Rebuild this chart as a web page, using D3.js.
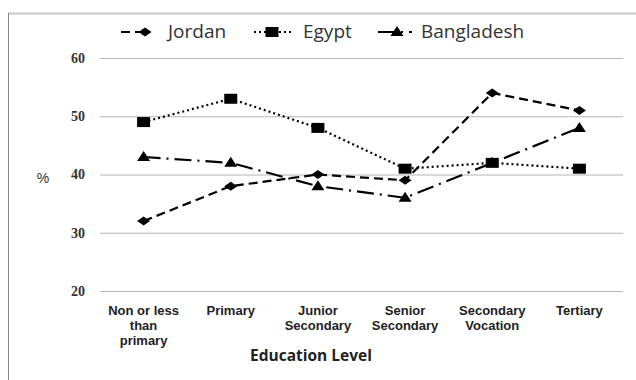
<!DOCTYPE html>
<html>
<head>
<meta charset="utf-8">
<script src="https://cdn.jsdelivr.net/npm/d3@7"></script>
<style>
  body { margin: 0; background: #fff; }
  svg { display: block; }
</style>
</head>
<body>
<svg width="636" height="380"></svg>
<script>
const categories = [
  ["Non or less", "than", "primary"],
  ["Primary"],
  ["Junior", "Secondary"],
  ["Senior", "Secondary"],
  ["Secondary", "Vocation"],
  ["Tertiary"],
];
const jordan = [32, 38, 40, 39, 54, 51];
const egypt = [49, 53, 48, 41, 42, 41];
const bangladesh = [43, 42, 38, 36, 42, 48];
const yTicks = [20, 30, 40, 50, 60];

// marker shapes (Excel-like: flat diamond, wide square, triangle)
const flatDiamond = {
  draw(ctx) {
    ctx.moveTo(-6.5, 0); ctx.lineTo(0, -4.5); ctx.lineTo(6.5, 0); ctx.lineTo(0, 4.5); ctx.closePath();
  },
};
const wideSquare = {
  draw(ctx) {
    ctx.moveTo(-6.5, -5); ctx.lineTo(6.5, -5); ctx.lineTo(6.5, 5); ctx.lineTo(-6.5, 5); ctx.closePath();
  },
};
const triangle = {
  draw(ctx) {
    ctx.moveTo(0, -6); ctx.lineTo(6.5, 4); ctx.lineTo(-6.5, 4); ctx.closePath();
  },
};

const series = [
  { name: "Jordan", values: jordan, dash: "9,5", symbol: flatDiamond },
  { name: "Egypt", values: egypt, dash: "2,3", symbol: wideSquare },
  { name: "Bangladesh", values: bangladesh, dash: "17,6,2,6", symbol: triangle },
];

const svg = d3.select("svg");

// chart frame (only top and left edges show)
svg.append("line").attr("x1", 8).attr("x2", 636).attr("y1", 13.5).attr("y2", 13.5)
  .attr("stroke", "#c8c8c8").attr("stroke-width", 2);
svg.append("line").attr("x1", 8.5).attr("x2", 8.5).attr("y1", 13).attr("y2", 380)
  .attr("stroke", "#888").attr("stroke-width", 1);

const margin = { top: 58, left: 100, right: 13, bottom: 89 };
const innerWidth = 636 - margin.left - margin.right;
const innerHeight = 380 - margin.top - margin.bottom;

const g = svg.append("g").attr("transform", `translate(${margin.left}, ${margin.top})`);

const xScale = d3.scaleBand().domain(d3.range(categories.length)).range([0, innerWidth]);
const yScale = d3.scaleLinear().domain([20, 60]).range([innerHeight, 0]);

// gridlines + y labels
const yAxis = d3.axisLeft(yScale).tickValues(yTicks).tickSize(-innerWidth).tickPadding(15);
const yg = g.append("g").call(yAxis);
yg.select(".domain").remove();
yg.selectAll(".tick line").attr("stroke", "#b4b4b4").attr("stroke-width", 1);
yg.selectAll(".tick text")
  .attr("font-family", "Liberation Serif, serif")
  .attr("font-weight", "bold")
  .attr("font-size", 14)
  .attr("fill", "#333");

// x category labels, one text per line
const cx = (i) => xScale(i) + xScale.bandwidth() / 2;
const xg = g.append("g").attr("transform", `translate(0, ${innerHeight})`);
categories.forEach((lines, i) => {
  lines.forEach((txt, j) => {
    xg.append("text")
      .attr("x", cx(i))
      .attr("y", 24 + j * 15)
      .attr("text-anchor", "middle")
      .attr("font-family", "Liberation Sans, sans-serif")
      .attr("font-weight", "bold")
      .attr("font-size", 13)
      .attr("fill", "#222")
      .text(txt);
  });
});

const line = d3.line().x((d, i) => cx(i)).y((d) => yScale(d));

series.forEach((s) => {
  g.append("path")
    .datum(s.values)
    .attr("d", line)
    .attr("fill", "none")
    .attr("stroke", "#000")
    .attr("stroke-width", 2.2)
    .attr("stroke-dasharray", s.dash);
  g.selectAll(null)
    .data(s.values)
    .join("path")
    .attr("transform", (d, i) => `translate(${cx(i)}, ${yScale(d)})`)
    .attr("d", d3.symbol(s.symbol))
    .attr("fill", "#000");
});

// axis titles
svg.append("text").attr("x", 43).attr("y", 183).attr("text-anchor", "middle")
  .attr("font-family", "Liberation Sans, sans-serif").attr("font-size", 14)
  .attr("fill", "#333").text("%");
svg.append("text").attr("x", 311).attr("y", 361).attr("text-anchor", "middle")
  .attr("font-family", "Open Sans, sans-serif").attr("font-weight", "bold")
  .attr("font-size", 15.5).attr("fill", "#222").text("Education Level");

// legend
const legendItems = [
  { s: series[0], x1: 121, x2: 150, mx: 145, text: 168 },
  { s: series[1], x1: 254, x2: 292, mx: 272, text: 303 },
  { s: series[2], x1: 378, x2: 412, mx: 397, text: 421 },
];
const ly = 32;
legendItems.forEach((it) => {
  svg.append("line")
    .attr("x1", it.x1).attr("x2", it.x2).attr("y1", ly).attr("y2", ly)
    .attr("stroke", "#000").attr("stroke-width", 2.2)
    .attr("stroke-dasharray", it.s.dash);
  svg.append("path")
    .attr("transform", `translate(${it.mx}, ${ly})`)
    .attr("d", d3.symbol(it.s.symbol))
    .attr("fill", "#000");
  svg.append("text")
    .attr("x", it.text).attr("y", ly + 6)
    .attr("font-family", "Open Sans, sans-serif").attr("font-size", 19)
    .attr("fill", "#333").text(it.s.name);
});
</script>
</body>
</html>
